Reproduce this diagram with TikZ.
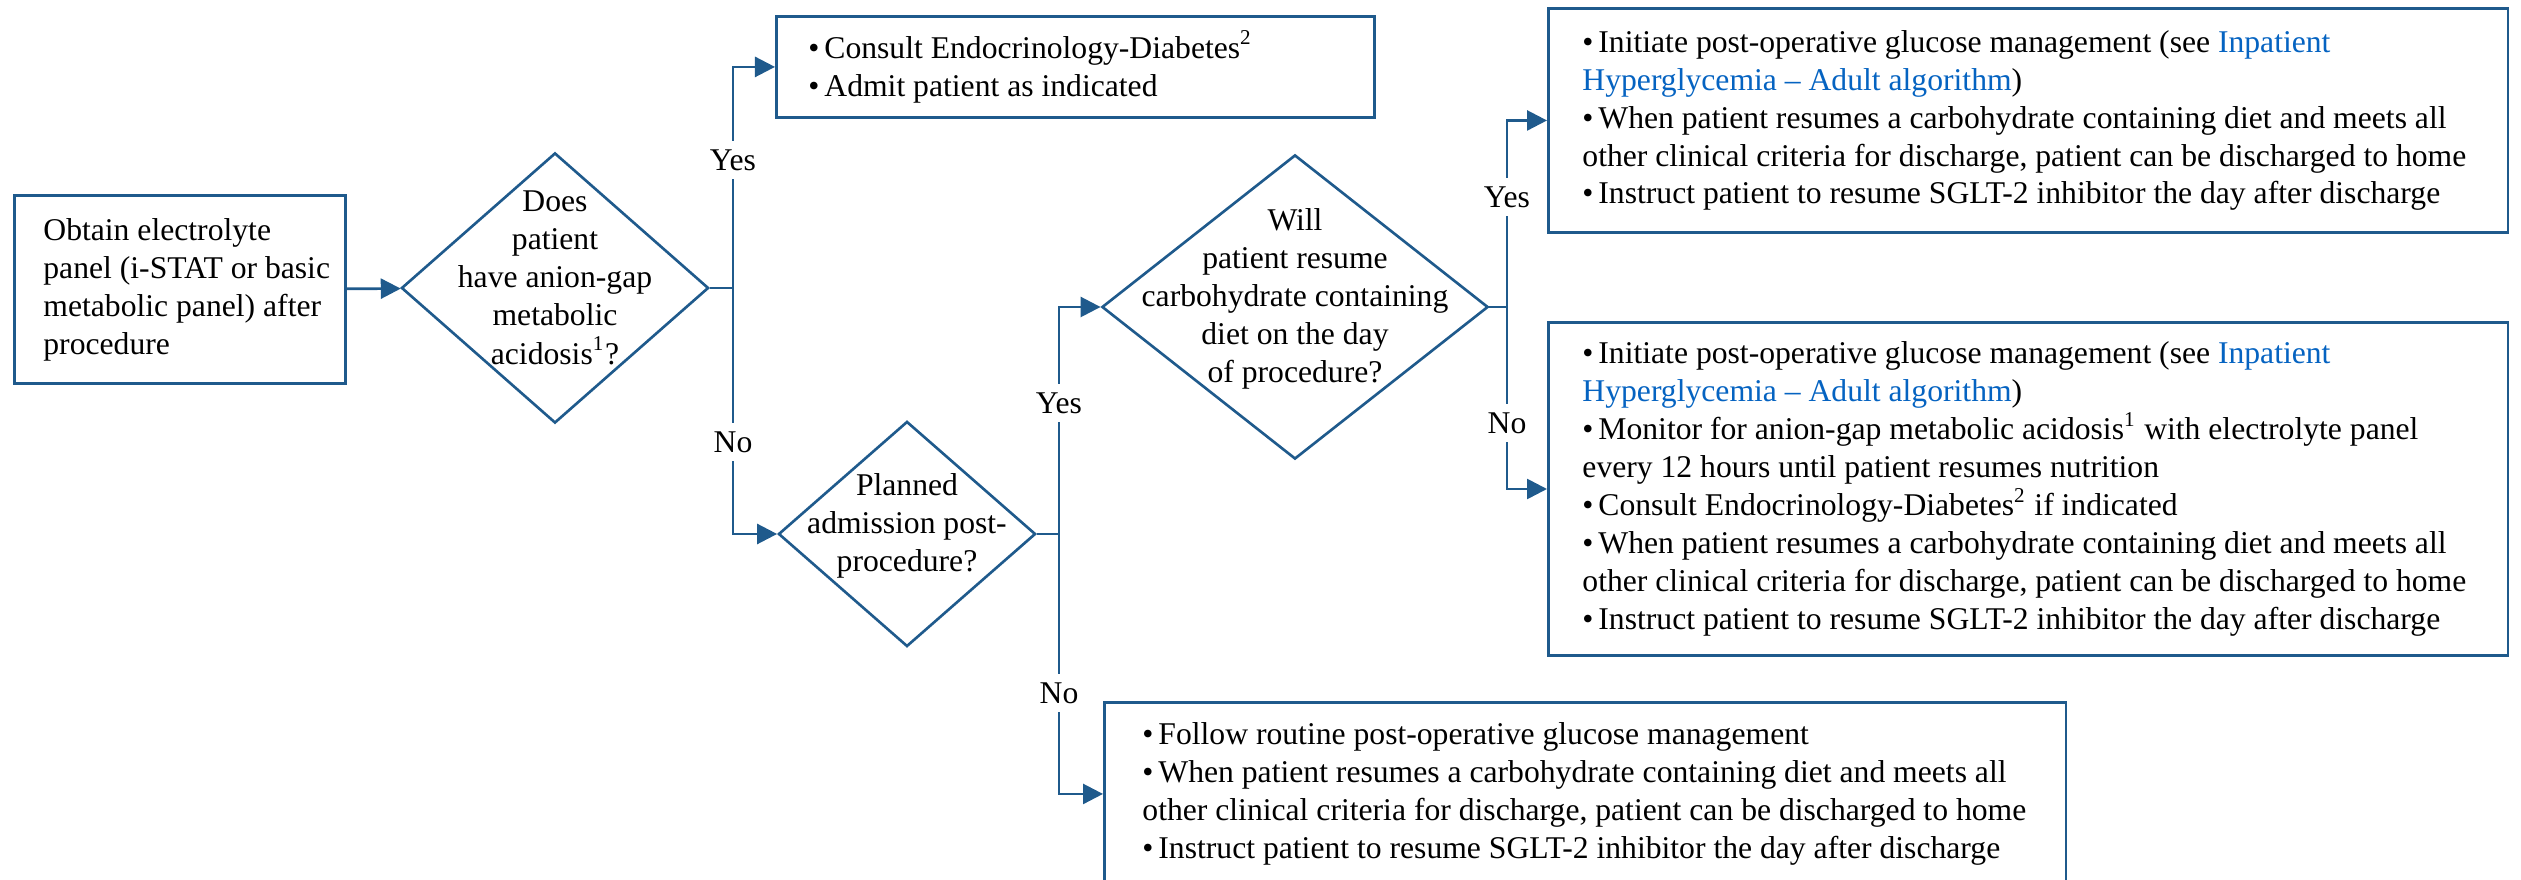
\documentclass[tikz,border=0pt]{standalone}
\usepackage{fontspec}
\setmainfont{Liberation Serif}
\usetikzlibrary{arrows.meta,shapes.geometric}
\definecolor{flow}{RGB}{31,90,140}
\definecolor{link}{RGB}{5,99,193}
\newcommand{\bul}{\par\hangindent=0.16cm\hangafter=1\noindent\makebox[0.16cm][l]{\textbullet}}
\newcommand{\lnk}[1]{\textcolor{link}{#1}}
\newcommand{\qtxt}[1]{\makebox[0pt]{\smash{\begin{tabular}{@{}c@{}}#1\end{tabular}}}}
\newcommand{\btxt}[3]{\parbox{#1}{\raggedright\leftskip=#2\relax #3\par}}

\begin{document}
\begin{tikzpicture}[x=0.01cm, y=-0.01cm]
		\tikzset{
			box/.style={draw=flow, line width=0.8pt, anchor=north west, inner sep=0pt, font=\fontsize{9}{10.8}\selectfont},
			dec/.style={draw=flow, diamond, line width=0.75pt, inner sep=0pt, font=\fontsize{9}{10.8}\selectfont},
			lbl/.style={fill=white, inner xsep=1pt, inner ysep=2.5pt, font=\fontsize{9}{10.8}\selectfont},
			ln/.style={draw=flow, line width=0.75pt},
			arr/.style={ln, -{Triangle[length=2mm, width=2mm]}}
		};
		\useasboundingbox (0,0) rectangle (2521,880);
		\clip (0,0) rectangle (2521,880);

		\node[box, minimum height=1.88cm] (s) at (13,194) {\btxt{3.31cm}{0.29cm}{Obtain electrolyte\\panel (i-STAT or basic\\metabolic panel) after\\procedure}};
		\node[dec, minimum width=3.07cm, minimum height=2.70cm] (d1) at (555,288) {\qtxt{Does\\patient\\have anion-gap\\metabolic\\acidosis\textsuperscript{1}?}};
		\node[box, minimum height=1.01cm] (c1) at (775,15) {\btxt{5.98cm}{0.32cm}{%
			\bul Consult Endocrinology-Diabetes\textsuperscript{2}
			\bul Admit patient as indicated}};
		\node[dec, minimum width=2.57cm, minimum height=2.25cm] (d2) at (907,534) {\qtxt{Planned\\admission post-\\procedure?}};
		\node[dec, minimum width=3.86cm, minimum height=3.04cm] (d3) at (1295,307) {\qtxt{Will\\patient resume\\carbohydrate containing\\diet on the day\\of procedure?}};
		\node[box, minimum height=2.24cm] (r2) at (1547,7) {\btxt{9.59cm}{0.34cm}{%
			\bul Initiate post-operative glucose management (see \lnk{Inpatient}\\\lnk{Hyperglycemia \textendash{} Adult algorithm})
			\bul When patient resumes a carbohydrate containing diet and meets all\\other clinical criteria for discharge, patient can be discharged to home
			\bul Instruct patient to resume SGLT-2 inhibitor the day after discharge}};
		\node[box, minimum height=3.33cm] (r3) at (1547,321) {\btxt{9.59cm}{0.34cm}{%
			\bul Initiate post-operative glucose management (see \lnk{Inpatient}\\\lnk{Hyperglycemia \textendash{} Adult algorithm})
			\bul Monitor for anion-gap metabolic acidosis\textsuperscript{1} with electrolyte panel\\every 12 hours until patient resumes nutrition
			\bul Consult Endocrinology-Diabetes\textsuperscript{2} if indicated
			\bul When patient resumes a carbohydrate containing diet and meets all\\other clinical criteria for discharge, patient can be discharged to home
			\bul Instruct patient to resume SGLT-2 inhibitor the day after discharge}};
		\node[box, minimum height=1.83cm] (r4) at (1103,701) {\btxt{9.61cm}{0.38cm}{%
			\bul Follow routine post-operative glucose management
			\bul When patient resumes a carbohydrate containing diet and meets all\\other clinical criteria for discharge, patient can be discharged to home
			\bul Instruct patient to resume SGLT-2 inhibitor the day after discharge}};

		\coordinate (b1) at (733,288);
		\coordinate (b2) at (1059,534);
		\coordinate (b3) at (1507,307);

		\draw[arr] (s) -- (d1);

		\draw[ln] (d1.east) -- (b1);
		\draw[arr] (b1) |- (c1.west);
		\draw[arr] (b1) |- (d2.west);

		\draw[ln] (d2.east) -- (b2);
		\draw[arr] (b2) |- (d3.west);
		\draw[arr] (b2) |- (r4.west);

		\draw[ln] (d3.east) -- (b3);
		\draw[arr] (b3) |- (r2.west);
		\draw[arr] (b3) |- (r3.west);

		\node[lbl] (y1) at (733,160) {Yes};
		\node[lbl] (n1) at (733,442) {No};
		\node[lbl] (y2) at (1059,403) {Yes};
		\node[lbl] (n2) at (1059,693) {No};
		\node[lbl] (y3) at (1507,197) {Yes};
		\node[lbl] (n3) at (1507,423) {No};
	\end{tikzpicture}
\end{document}
